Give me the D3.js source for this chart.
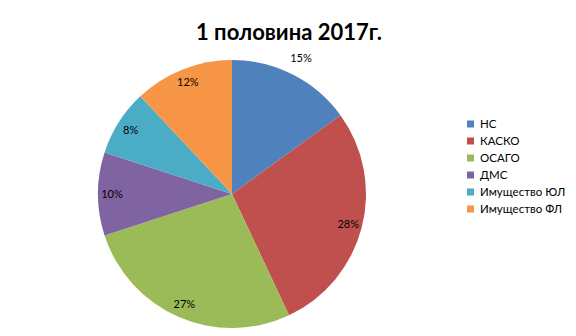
<!DOCTYPE html>
<html>
<head>
<meta charset="utf-8">
<script src="https://cdn.jsdelivr.net/npm/d3@7"></script>
<style>
body { margin: 0; background: #fff; }
text { font-family: Lato, "Open Sans", sans-serif; }
</style>
</head>
<body>
<script>
var categories = ["НС", "КАСКО", "ОСАГО", "ДМС", "Имущество ЮЛ", "Имущество ФЛ"];
var shares = [15, 28, 27, 10, 8, 12];
var colors = ["#4F81BD", "#C0504D", "#9BBB59", "#8064A2", "#4BACC6", "#F79646"];
var title = "1 половина 2017г.";

let w = 576, h = 336;
let cx = 232, cy = 194, r = 134;

let svg = d3.select("body")
    .append("svg")
    .attr("width", w)
    .attr("height", h);

svg.append("text")
    .attr("x", 289)
    .attr("y", 40)
    .attr("text-anchor", "middle")
    .attr("font-size", "22px")
    .attr("font-weight", "bold")
    .text(title);

let pie = d3.pie().sort(null).value(function(d) { return d; });
let arcs = pie(shares);
let arc = d3.arc().innerRadius(0).outerRadius(r);

let g = svg.append("g").attr("transform", "translate(" + cx + "," + cy + ")");

g.selectAll("path")
    .data(arcs)
    .enter()
    .append("path")
    .attr("d", arc)
    .attr("fill", function(d, i) { return colors[i]; });

// labels sit just inside the rim; the first slice gets pushed outside like Excel's best fit
let inner = d3.arc().innerRadius(120).outerRadius(120);
let outer = d3.arc().innerRadius(152).outerRadius(152);

g.selectAll("text.lbl")
    .data(arcs)
    .enter()
    .append("text")
    .attr("class", "lbl")
    .attr("transform", function(d, i) {
        let c = (i === 0 ? outer : inner).centroid(d);
        return "translate(" + c[0] + "," + c[1] + ")";
    })
    .attr("text-anchor", "middle")
    .attr("dy", "0.35em")
    .attr("font-size", "11px")
    .attr("fill", "#000")
    .text(function(d) { return d.data + "%"; });

// legend
let legend = svg.append("g").attr("transform", "translate(467,124)");
let rows = legend.selectAll("g")
    .data(categories)
    .enter()
    .append("g")
    .attr("transform", function(d, i) { return "translate(0," + (i * 17) + ")"; });

rows.append("rect")
    .attr("x", 0)
    .attr("y", -3.5)
    .attr("width", 7)
    .attr("height", 7)
    .attr("fill", function(d, i) { return colors[i]; });

rows.append("text")
    .attr("x", 13)
    .attr("dy", "0.35em")
    .attr("font-size", "11.5px")
    .attr("fill", "#000")
    .text(function(d) { return d; });
</script>
</body>
</html>
